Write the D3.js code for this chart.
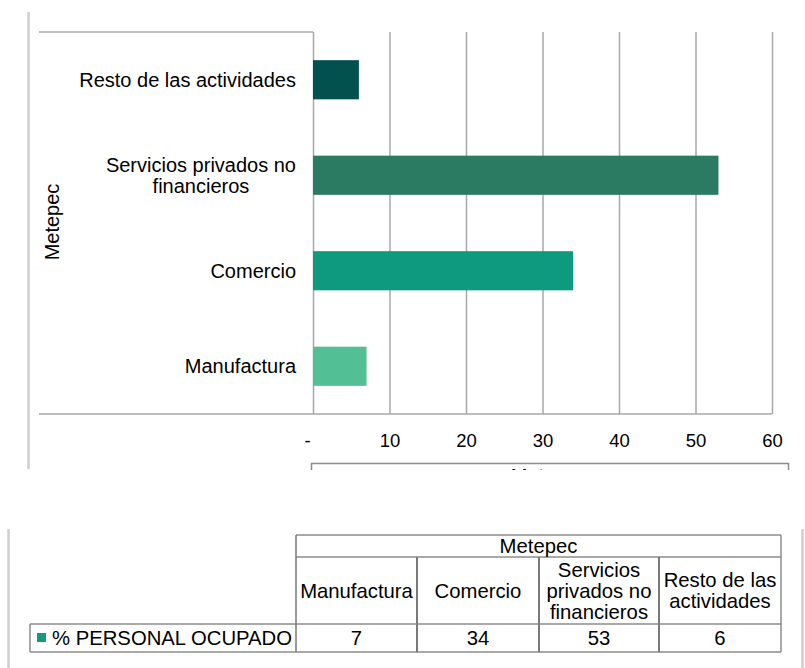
<!DOCTYPE html>
<html>
<head>
<meta charset="utf-8">
<script src="https://cdn.jsdelivr.net/npm/d3@7"></script>
<style>
  body { margin: 0; background: #fff; }
  svg { display: block; font-family: "Liberation Sans", Arial, sans-serif; }
</style>
</head>
<body>
<div id="chart"></div>
<script>
// datos
const groupName = 'Metepec';
const seriesName = '% PERSONAL OCUPADO';
const categories = ['Manufactura', 'Comercio', 'Servicios privados no financieros', 'Resto de las actividades'];
const values = [7, 34, 53, 6];
const axisLines = [['Manufactura'], ['Comercio'], ['Servicios privados no', 'financieros'], ['Resto de las actividades']];
const tableLines = [['Manufactura'], ['Comercio'], ['Servicios', 'privados no', 'financieros'], ['Resto de las', 'actividades']];
const xTicks = [0, 10, 20, 30, 40, 50, 60];
const xTickLabels = ['-', '10', '20', '30', '40', '50', '60'];

const barColors = ['#52bf94', '#0e9a7e', '#2b7a62', '#03514f'];
const legendColor = '#149a7c';

const W = 805, H = 668;
const svg = d3.select('#chart').append('svg').attr('width', W).attr('height', H);

// marco gris de la imagen
svg.append('line').attr('x1', 28.5).attr('x2', 28.5).attr('y1', 12).attr('y2', 469)
  .attr('stroke', '#cfcfcf').attr('stroke-width', 2.5);
svg.append('line').attr('x1', 8.5).attr('x2', 8.5).attr('y1', 529).attr('y2', H)
  .attr('stroke', '#cfcfcf').attr('stroke-width', 2.5);
svg.append('line').attr('x1', 802.5).attr('x2', 802.5).attr('y1', 529).attr('y2', H)
  .attr('stroke', '#cfcfcf').attr('stroke-width', 2.5);

// área del gráfico
const plot = { left: 313, right: 772, top: 32, bottom: 414 };
const x = d3.scaleLinear().domain([0, 60]).range([plot.left, plot.right]);
const y = d3.scaleBand().domain([...categories].reverse())
  .range([plot.top, plot.bottom]).paddingInner(0.59).paddingOuter(0.295);

const gridColor = '#a8a8a8';
const labelSize = 20;

// borde superior e inferior de la zona de etiquetas
svg.append('line').attr('x1', 39).attr('x2', plot.left).attr('y1', plot.top).attr('y2', plot.top)
  .attr('stroke', gridColor).attr('stroke-width', 1.5);
svg.append('line').attr('x1', 39).attr('x2', plot.right).attr('y1', plot.bottom).attr('y2', plot.bottom)
  .attr('stroke', gridColor).attr('stroke-width', 1.5);

// eje x con líneas de cuadrícula
const xAxis = d3.axisBottom(x)
  .tickValues(xTicks)
  .tickFormat((d, i) => xTickLabels[i])
  .tickSize(-(plot.bottom - plot.top))
  .tickPadding(20);

const gx = svg.append('g').attr('transform', `translate(0,${plot.bottom})`).call(xAxis);
gx.select('.domain').remove();
gx.selectAll('.tick line').attr('stroke', gridColor).attr('stroke-width', 1.5);
gx.selectAll('.tick text')
  .attr('font-size', 18.5).attr('fill', '#000').attr('font-family', '"Liberation Sans", Arial, sans-serif')
  .attr('dx', (d, i) => i === 0 ? -6 : 0);

// barras
svg.selectAll('rect.bar')
  .data(categories)
  .enter()
  .append('rect')
  .attr('class', 'bar')
  .attr('x', x(0))
  .attr('y', d => y(d))
  .attr('width', (d, i) => x(values[i]) - x(0))
  .attr('height', y.bandwidth())
  .attr('fill', (d, i) => barColors[i]);

// etiquetas de categoría
const labels = svg.selectAll('text.cat')
  .data(categories)
  .enter()
  .append('text')
  .attr('class', 'cat')
  .attr('font-size', labelSize)
  .attr('fill', '#000')
  .attr('text-anchor', 'middle');

labels.each(function (d, i) {
  const lines = axisLines[i];
  const t = d3.select(this);
  const cy = y(d) + y.bandwidth() / 2;
  const lh = 21;
  // ancho de la línea más larga para alinear a la derecha
  const tmp = svg.append('text').attr('font-size', labelSize).text(lines.reduce((a, b) => a.length > b.length ? a : b));
  const w = tmp.node().getComputedTextLength();
  tmp.remove();
  const cx = 296 - w / 2;
  lines.forEach((ln, k) => {
    t.append('tspan')
      .attr('x', cx)
      .attr('y', cy + (k - (lines.length - 1) / 2) * lh)
      .attr('dy', '0.36em')
      .text(ln);
  });
});

// título del eje y
svg.append('text')
  .attr('transform', 'translate(52,222) rotate(-90)')
  .attr('text-anchor', 'middle')
  .attr('dy', '0.36em')
  .attr('font-size', labelSize)
  .attr('fill', '#000')
  .text(groupName);

// caja recortada bajo el eje
const clip = svg.append('defs').append('clipPath').attr('id', 'cut');
clip.append('rect').attr('x', 0).attr('y', 0).attr('width', W).attr('height', 470);
const cut = svg.append('g').attr('clip-path', 'url(#cut)');
cut.append('rect').attr('x', 311.5).attr('y', 463.5).attr('width', 477).attr('height', 40)
  .attr('fill', 'none').attr('stroke', '#8c8c8c').attr('stroke-width', 1.5);
cut.append('text').attr('x', 549).attr('y', 483).attr('text-anchor', 'middle')
  .attr('font-size', labelSize).attr('fill', '#000').text(groupName);

// tabla de datos
const tbl = svg.append('g');
const colX = [296, 417, 539, 659, 781];
const rowY = { top: 535, group: 557, head: 624, data: 652 };
const border = '#8c8c8c';
const fs = 20.3;

const lineSeg = (x1, y1, x2, y2, c = border, w = 1.5) =>
  tbl.append('line').attr('x1', x1).attr('y1', y1).attr('x2', x2).attr('y2', y2)
    .attr('stroke', c).attr('stroke-width', w);

lineSeg(colX[0], rowY.top, colX[4], rowY.top);
lineSeg(colX[0], rowY.group, colX[4], rowY.group);
lineSeg(30, rowY.head, colX[4], rowY.head);
lineSeg(30, rowY.data, colX[4], rowY.data);
lineSeg(30, rowY.head, 30, rowY.data);
lineSeg(colX[0], rowY.top, colX[0], rowY.data, '#7a7a7a');
lineSeg(colX[4], rowY.top, colX[4], rowY.data);
colX.slice(1, 4).forEach(cx => lineSeg(cx, rowY.group, cx, rowY.data, '#7a7a7a', 2));

tbl.append('text')
  .attr('x', (colX[0] + colX[4]) / 2).attr('y', (rowY.top + rowY.group) / 2).attr('dy', '0.36em')
  .attr('text-anchor', 'middle').attr('font-size', fs).attr('fill', '#000').text(groupName);

categories.forEach((c, i) => {
  const cx = (colX[i] + colX[i + 1]) / 2;
  const cy = (rowY.group + rowY.head) / 2;
  const lines = tableLines[i];
  const t = tbl.append('text').attr('text-anchor', 'middle').attr('font-size', fs).attr('fill', '#000');
  lines.forEach((ln, k) => {
    t.append('tspan').attr('x', cx).attr('y', cy + (k - (lines.length - 1) / 2) * 21)
      .attr('dy', '0.36em').text(ln);
  });
  tbl.append('text')
    .attr('x', cx).attr('y', (rowY.head + rowY.data) / 2).attr('dy', '0.36em')
    .attr('text-anchor', 'middle').attr('font-size', fs).attr('fill', '#000')
    .text(values[i]);
});

// clave de leyenda
tbl.append('rect').attr('x', 37).attr('y', 633).attr('width', 9).attr('height', 9).attr('fill', legendColor);
tbl.append('text').attr('x', 52).attr('y', (rowY.head + rowY.data) / 2).attr('dy', '0.36em')
  .attr('font-size', fs).attr('fill', '#000').text(seriesName);
</script>
</body>
</html>
